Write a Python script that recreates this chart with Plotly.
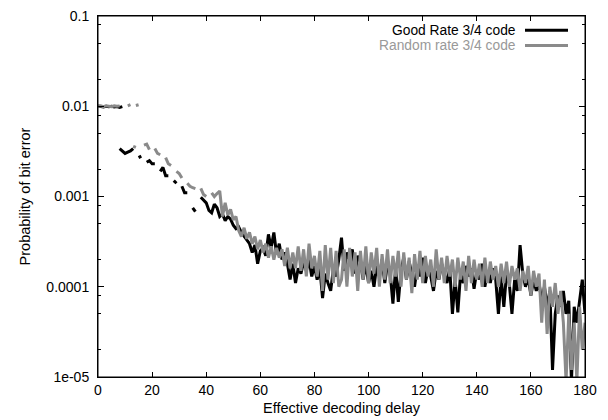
import plotly.graph_objects as go

# ---- data ----
series_names = ["Good Rate 3/4 code", "Random rate 3/4 code"]
series_colors = ["#000000", "#8a8a8a"]

# early cluster near 0.01 (delay 0..9)
top_delay = list(range(0, 10))
good_top = [0.0101, 0.0099, 0.0098, 0.0100, 0.0099, 0.0100, 0.0098, 0.0099, 0.0097, 0.0099]
random_top = [0.0100, 0.0101, 0.0099, 0.0101, 0.0100, 0.0099, 0.0101, 0.0100, 0.0101, None]
random_top_tail_delay = [11, 12, 14, 15]
random_top_tail = [0.0101, 0.0104, 0.0102, 0.0104]

# main curves, delay 0..180 (None = no data)
delay = list(range(0, 181))
good = [None] * 8 + [
    0.0034, 0.0032, 0.0030, 0.0031, 0.0032, 0.0034, None, 0.0027, 0.0028, None,   # 8-17
    0.0024, 0.0025, 0.0023, 0.0023, None, 0.0019, 0.0021, 0.0017, 0.0017, None,   # 18-27
    0.0015, 0.0014, None, 0.0013, 0.0011, 0.0011, None, 0.00075, 0.00068, None,   # 28-37
    0.00098, 0.00092, 0.00085, 0.00070, 0.00066, 0.00082, 0.00075, 0.00060, 0.00064, 0.00054,  # 38-47
    0.00060, 0.00056, 0.00048, 0.00044, 0.00046, 0.00040, 0.00036, 0.00033, 0.00030, 0.00024,  # 48-57
    0.00029, 0.00018, 0.00025, 0.00027, 0.00022, 0.00038, 0.00027, 0.00040, 0.00023, 0.00030,  # 58-67
    0.00020, 0.00024, 0.00018, 0.00012, 0.00018, 0.00011, 0.00016, 0.00014, 0.00019, 0.00015,  # 68-77
    0.00020, 0.00013, 0.00017, 0.00012, 0.00016, 0.000075, 0.00014, 0.00011, 0.00009, 0.00016,  # 78-87
    0.00013, 0.00020, 0.00035, 0.00015, 0.00024, 0.00020, 0.00026, 0.00014, 0.00022, 0.00019,  # 88-97
    0.00012, 0.00018, 0.00011, 0.00015, 0.00010, 0.00017, 0.00013, 0.00020, 0.00011, 0.00018,  # 98-107
    0.00014, 0.000065, 0.00016, 0.000068, 0.00015, 0.00021, 0.00012, 0.00019, 0.00014, 0.00010,  # 108-117
    0.00017, 0.00013, 0.00021, 0.00011, 0.00016, 0.00013, 0.00009, 0.00015, 0.00012, 0.00018,  # 118-127
    0.00014, 0.00011, 0.00016, 0.00005, 0.00012, 0.000052, 0.00014, 0.00011, 0.00017, 0.00013,  # 128-137
    0.00016, 0.000095, 0.00015, 0.00012, 0.00018, 0.00010, 0.00015, 0.00011, 0.00016, 0.00012,  # 138-147
    0.00005, 0.00013, 0.00006, 0.00014, 0.00011, 0.00005, 0.00012, 0.00009, 0.00029, 0.00014,  # 148-157
    0.00010, 0.00013, 0.00008, 0.00012, 0.00009, 0.00011, 0.00007, 0.00010, 0.00006, 0.00009,  # 158-167
    0.000012, 0.00005, 0.00008, 0.00006, 0.00009, 0.00005, 0.00007, 0.000009, 0.00006, 0.00004,  # 168-177
    0.00007, 0.00012, 0.00005,  # 178-180
]
random = [None] * 13 + [
    0.0036, 0.0035, None, None, 0.0037, 0.0038, 0.0033,          # 13-19
    None, 0.0034, 0.0030, 0.0029, None, 0.0027, 0.0023, 0.0022, None, 0.0019,  # 20-29
    0.0018, 0.0016, None, 0.0014, 0.0013, 0.00125, 0.00122, None, 0.00123, 0.00105,  # 30-39
    0.00100, None, 0.00110, 0.00100, 0.00108, 0.00115, 0.00060, 0.00085, 0.00062, 0.00072,  # 40-49
    0.00055, 0.00060, 0.00042, 0.00036, 0.00045, 0.00034, 0.00040, 0.00030, 0.00036, 0.00026,  # 50-59
    0.00033, 0.00024, 0.00030, 0.00021, 0.00028, 0.00020, 0.00027, 0.00021, 0.00026, 0.00017,  # 60-69
    0.00027, 0.00016, 0.00024, 0.00016, 0.00028, 0.00015, 0.00026, 0.00013, 0.00030, 0.00016,  # 70-79
    0.00022, 0.00013, 0.00025, 0.00009, 0.00029, 0.00012, 0.00027, 0.00011, 0.00025, 0.00010,  # 80-89
    0.00012, 0.00026, 0.00010, 0.00027, 0.00013, 0.00024, 0.00009, 0.00025, 0.00012, 0.00028,  # 90-99
    0.00011, 0.00024, 0.00014, 0.00027, 0.00010, 0.00023, 0.00012, 0.00026, 0.00011, 0.00022,  # 100-109
    0.00013, 0.00025, 0.00010, 0.00024, 0.00012, 0.00021, 0.000085, 0.00023, 0.00012, 0.00025,  # 110-119
    0.00011, 0.00022, 0.00013, 0.00020, 0.00010, 0.00026, 0.00012, 0.00021, 0.00011, 0.00022,  # 120-129
    0.00013, 0.00020, 0.00010, 0.00021, 0.00012, 0.00019, 0.00009, 0.00022, 0.00011, 0.00020,  # 130-139
    0.00012, 0.00018, 0.00010, 0.00021, 0.00011, 0.00019, 0.00012, 0.00017, 0.00010, 0.00018,  # 140-149
    0.00011, 0.00019, 0.00010, 0.00017, 0.00012, 0.00016, 0.00009, 0.00015, 0.00011, 0.00017,  # 150-159
    0.00008, 0.00015, 0.00010, 0.00014, 0.00004, 0.00012, 0.00003, 0.00010, 0.00006, 0.00011,  # 160-169
    0.00005, 0.00009, 0.00004, 0.000009, 0.00005, 0.000012, 0.00004, 0.000009, 0.00006, 0.00002,  # 170-179
    0.00004,  # 180
]

y_tick_vals = [1e-5, 1e-4, 1e-3, 1e-2, 1e-1]
y_tick_text = ["1e-05", "0.0001", "0.001", "0.01", "0.1"]
y_minor_vals = [m * 10 ** k for k in range(-5, -1) for m in (2, 5, 8)]
x_tick_vals = list(range(0, 181, 20))

FONT = "Liberation Sans, Arial, Helvetica, sans-serif"
TICK_FS = 14
TEXT_FS = 14.5
LEG_FS = 13.8
LW = 3

fig = go.Figure()
def add_line(x, y, idx):
    fig.add_trace(go.Scatter(x=x, y=y, mode="lines", name=series_names[idx],
                             line=dict(color=series_colors[idx], width=LW),
                             connectgaps=False, showlegend=False, legendgroup=str(idx)))

add_line(top_delay, good_top, 0)
add_line(delay, good, 0)
add_line(top_delay, random_top, 1)
add_line(random_top_tail_delay[:2], random_top_tail[:2], 1)
add_line(random_top_tail_delay[2:], random_top_tail[2:], 1)
add_line(delay, random, 1)

# plot area geometry in pixels
W, H = 608, 420
L, R, T, B = 98, 23, 16, 43
pw, ph = W - L - R, H - T - B

def px2paper(px, py):
    return (px - L) / pw, (H - B - py) / ph

# gnuplot-style legend (text right, sample to the right)
legend_text_colors = ["#000000", "#999999"]
for i, (nm, col) in enumerate(zip(series_names, series_colors)):
    py = 30.2 + i * 15.2
    xt, yt = px2paper(517, py)
    fig.add_annotation(x=xt, y=yt, xref="paper", yref="paper", text=nm, showarrow=False,
                       xanchor="right", yanchor="middle", borderpad=0,
                       font=dict(family=FONT, size=LEG_FS, color=legend_text_colors[i]))
    x0, y0 = px2paper(525, py)
    x1, _ = px2paper(568, py)
    fig.add_shape(type="line", xref="paper", yref="paper", x0=x0, x1=x1, y0=y0, y1=y0,
                  line=dict(color=col, width=LW))

# plot frame
fig.add_shape(type="rect", xref="paper", yref="paper", x0=0, x1=1, y0=0, y1=1,
              line=dict(color="black", width=1), layer="above")

fig.update_layout(
    width=W, height=H,
    margin=dict(l=L, r=R, t=T, b=B, autoexpand=False),
    paper_bgcolor="white", plot_bgcolor="white",
    font=dict(family=FONT, size=TICK_FS, color="black"),
    showlegend=False,
    xaxis=dict(
        range=[0, 180], tickmode="array", tickvals=x_tick_vals,
        ticks="inside", ticklen=5, tickwidth=1, tickcolor="black",
        showline=True, linecolor="black", linewidth=1, mirror="ticks",
        showgrid=False, zeroline=False, automargin=False,
        tickfont=dict(family=FONT, size=TICK_FS),
        title=dict(text="Effective decoding delay", font=dict(family=FONT, size=TEXT_FS), standoff=6),
    ),
    yaxis=dict(
        type="log", range=[-5, -1], tickmode="array", tickvals=y_tick_vals, ticktext=y_tick_text,
        ticks="inside", ticklen=6, tickwidth=1, tickcolor="black",
        showline=True, linecolor="black", linewidth=1, mirror="ticks",
        showgrid=False, zeroline=False, automargin=False,
        tickfont=dict(family=FONT, size=TICK_FS), ticklabelstandoff=5,
        title=dict(text="Probability of bit error", font=dict(family=FONT, size=TEXT_FS), standoff=12),
    ),
    # minor log ticks drawn by an overlaid, unlabeled axis
    yaxis2=dict(
        type="log", range=[-5, -1], overlaying="y", side="left", tickmode="array",
        tickvals=y_minor_vals, ticks="inside", ticklen=3, tickwidth=1, tickcolor="black",
        showticklabels=False, showline=False, mirror="ticks", showgrid=False, zeroline=False,
        automargin=False,
    ),
)
# invisible trace that activates the minor-tick axis
fig.add_trace(go.Scatter(x=[None], y=[None], yaxis="y2", showlegend=False, hoverinfo="skip"))

fig.write_html("out.html", config={"displayModeBar": False},
               post_script="document.body.style.margin='0';")
